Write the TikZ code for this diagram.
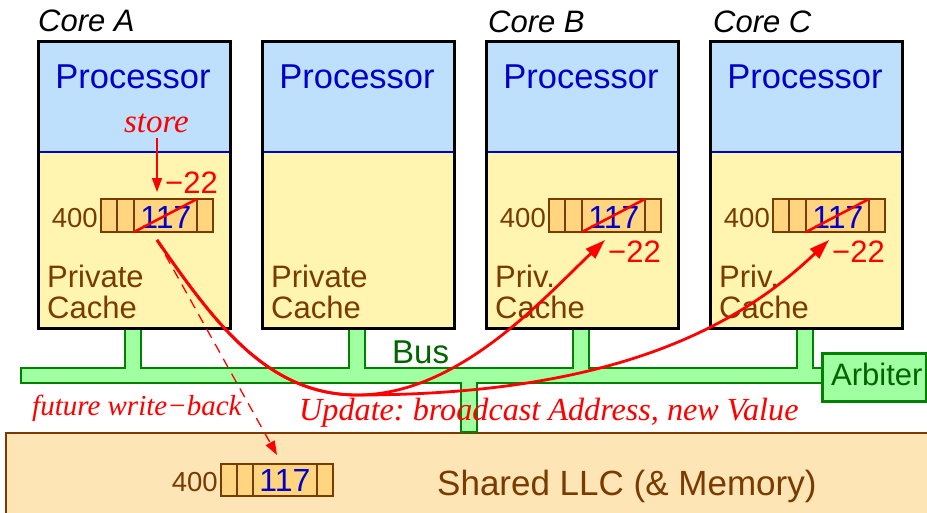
\documentclass[tikz,border=0pt]{standalone}
\usepackage{fontspec}
\setmainfont{Liberation Serif}
\setsansfont{Liberation Sans}
\usetikzlibrary{arrows.meta}
\definecolor{procblue}{RGB}{190,224,252}
\definecolor{cacheyel}{RGB}{255,245,176}
\definecolor{txtblue}{RGB}{0,0,200}
\definecolor{brn}{RGB}{122,58,0}
\definecolor{cellor}{RGB}{255,213,128}
\definecolor{busgreen}{RGB}{160,255,160}
\definecolor{busedge}{RGB}{0,130,0}
\definecolor{dkgreen}{RGB}{0,100,0}
\definecolor{llcfill}{RGB}{253,229,181}
\newcommand\fsz[1]{\fontsize{#1}{#1}\selectfont}
\frenchspacing
\begin{document}
\begin{tikzpicture}[x=1pt,y=-1pt,
  lbl/.style={inner sep=0pt, font=\sffamily\fsz{#1}},
  ital/.style={inner sep=0pt, font=\itshape\fsz{#1}, text=red},
  cellrow/.style={draw=brn, line width=1.2pt, fill=cellor},
  celldiv/.style={draw=brn, line width=1.2pt},
  strike/.style={draw=red, line width=2.5pt},
  upd/.style={draw=red, line width=2.8pt, -{Triangle[length=20pt,width=13pt]}},
  wback/.style={draw=red, line width=1.3pt, dash pattern=on 10pt off 7pt, -{Triangle[length=14pt,width=10pt]}},
  storearr/.style={draw=red, line width=1.3pt, -{Triangle[length=14pt,width=10pt]}}]
\useasboundingbox (0,0) rectangle (927,512);
\clip (0,0) rectangle (927,512);

% Shared LLC
\node[draw=brn, line width=2pt, fill=llcfill, anchor=north west, minimum width=960pt, minimum height=120pt, inner sep=0pt] (llc) at (5,432) {};
\node[lbl=35, text=brn, anchor=base west] (llctxt) at (437,495) {Shared LLC (\& Memory)};
\draw[cellrow] (221,464) rectangle (333,496);
\draw[celldiv] (237,464) -- (237,496) (253,464) -- (253,496) (317,464) -- (317,496);
\node[lbl=27.5, text=brn, anchor=base east] (addrL) at (218,491) {400};
\node[lbl=32, text=txtblue, anchor=base] (valL) at (285,491) {117};
\coordinate (wbtip) at (277,455);

% Bus
\draw[busedge, line width=1.3pt, fill=busgreen]
  (21,368) -- (125,368) -- (125,327) -- (141,327) -- (141,368)
  -- (349,368) -- (349,327) -- (365,327) -- (365,368)
  -- (573,368) -- (573,327) -- (589,327) -- (589,368)
  -- (797,368) -- (797,327) -- (813,327) -- (813,368)
  -- (823,368) -- (823,383) -- (477,383) -- (477,432) -- (461,432) -- (461,383)
  -- (21,383) -- cycle;
\node[lbl=33, text=dkgreen, anchor=base west] (bus) at (392,363) {Bus};
\node[draw=busedge, line width=2.5pt, fill=busgreen, anchor=north west, minimum width=104pt, minimum height=48pt, inner sep=0pt] (arb) at (821,352) {};
\node[lbl=31, text=dkgreen, anchor=base west] (arbtxt) at (831,385) {Arbiter};

% Cores
\foreach \cn/\cx/\ct in {A/37/Private, D/261/Private, B/485/Priv., C/709/Priv.}{
  \fill[procblue] (\cx,40) rectangle (\cx+192,152);
  \fill[cacheyel] (\cx,152) rectangle (\cx+192,327);
  \draw[txtblue, line width=1.3pt] (\cx,152) -- (\cx+192,152);
  \node[draw=black, line width=3pt, anchor=north west, minimum width=192pt, minimum height=287pt, inner sep=0pt] (core\cn) at (\cx,40) {};
  \node[lbl=34.5, text=txtblue, anchor=base] (proc\cn) at (\cx+96,88) {Processor};
  \node[lbl=31, text=brn, anchor=base west] (pcA\cn) at (\cx+10,287) {\ct};
  \node[lbl=31, text=brn, anchor=base west] (pcB\cn) at (\cx+10,318) {Cache};
}
\node[lbl=31, font=\sffamily\itshape\fsz{31}, anchor=base west] (labA) at (38,31) {Core A};
\node[lbl=31, font=\sffamily\itshape\fsz{31}, anchor=base west] (labB) at (488,32) {Core B};
\node[lbl=31, font=\sffamily\itshape\fsz{31}, anchor=base west] (labC) at (713,32) {Core C};

% Cache lines in cores A, B, C
\foreach \cn/\cx in {A/37, B/485, C/709}{
  \draw[cellrow] (\cx+64,199) rectangle (\cx+176,232);
  \draw[celldiv] (\cx+80,199) -- (\cx+80,232) (\cx+97,199) -- (\cx+97,232) (\cx+160,199) -- (\cx+160,232);
  \node[lbl=27.5, text=brn, anchor=base east] (addr\cn) at (\cx+61,227) {400};
  \node[lbl=32, text=txtblue, anchor=base] (val\cn) at (\cx+129,228) {117};
  \draw[strike] (\cx+97,232) -- (\cx+160,199);
  \coordinate (port\cn) at (\cx+120,240);
}
\node[lbl=31, text=red, anchor=base east] (newA) at (218,193) {−22};
\node[lbl=31, text=red, anchor=base west] (newB) at (608,262) {−22};
\node[lbl=31, text=red, anchor=base west] (newC) at (832,262) {−22};

% store
\node[ital=33, anchor=base] (store) at (156.5,132) {store};
\coordinate (storetip) at (157,192);
\draw[storearr] ([yshift=-5pt]store.south -| storetip) -- (storetip);

% update curves
\coordinate (mid) at (357,395);
\draw[upd] (portA) .. controls +(57,82) and +(-90,0) .. (mid) .. controls +(100,0) and +(-65,62) .. (portB);
\draw[upd] (portA) .. controls +(57,82) and +(-90,0) .. (mid) .. controls +(250,0) and +(-94,90) .. (portC);

% write-back
\draw[wback] (portA) -- (wbtip);

\node[ital=29, anchor=base west] (wbtxt) at (32,415) {future write−back};
\node[ital=32.2, anchor=base west] (updtxt) at (299,420) {Update: broadcast Address, new Value};
\end{tikzpicture}
\end{document}
